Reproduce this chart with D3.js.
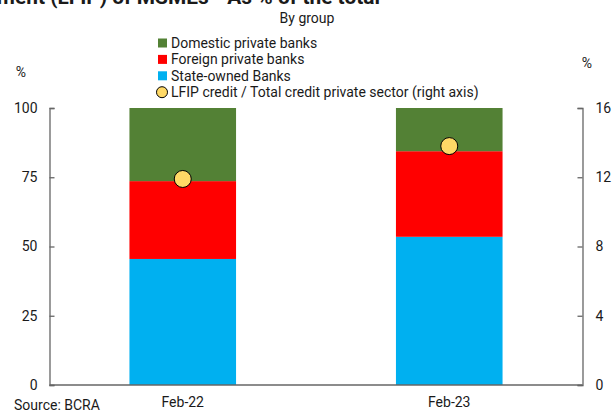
<!DOCTYPE html>
<html><head><meta charset="utf-8">
<script src="https://cdn.jsdelivr.net/npm/d3@7"></script>
<style>
body{margin:0;background:#fff;}
svg text{font-family:Roboto,"Noto Sans",sans-serif;fill:#1a1a1a;}
</style></head>
<body><svg id="c" width="615" height="412"></svg>
<script>
const categories = ["Feb-22", "Feb-23"];
const stateOwned = [45.5, 53.5];
const foreignPrivate = [28.1, 30.9];
const domesticPrivate = [26.4, 15.6];
const lfipShare = [11.9, 13.8];
const leftTicks = [0, 25, 50, 75, 100];
const rightTicks = [0, 4, 8, 12, 16];
const seriesNames = ["State-owned Banks", "Foreign private banks", "Domestic private banks"];
const seriesColors = ["#00B0F0", "#FF0000", "#538135"];
const lineName = "LFIP credit / Total credit private sector (right axis)";
const titleText = "Productive Investment (LFIP) of MSMEs - As % of the total";

const svg = d3.select("#c");
const L = 49.5, R = 582.5, T = 108, B = 385;
const x = d3.scaleBand().domain(categories).range([L, R]).paddingInner(0.6).paddingOuter(0.3);
const y = d3.scaleLinear().domain([0, 100]).range([B, T]);
const y2 = d3.scaleLinear().domain([0, 16]).range([B, T]);

// cut-off title (partly outside the top edge, as in the reference)
const title = svg.append("text").attr("x", 380).attr("y", 4).attr("text-anchor", "end")
  .style("font-weight", "bold").style("font-size", "24px").text(titleText);
{
  const node = title.node();
  const i0 = titleText.indexOf("(");
  const w = node.getSubStringLength(i0, titleText.length - i0);
  const fs = Math.max(14, Math.min(30, 24 * 330 / w));
  title.style("font-size", fs + "px");
}
svg.append("text").attr("x", 307).attr("y", 23).attr("text-anchor", "middle")
  .style("font-size", "14px").text("By group");

// stacked bars
const rows = categories.map((c, i) => ({cat: c, v: [stateOwned[i], foreignPrivate[i], domesticPrivate[i]]}));
const stack = d3.stack().keys([0, 1, 2]).value((d, k) => d.v[k]);
const layers = stack(rows);
svg.append("g").selectAll("g").data(layers).join("g")
  .attr("fill", (d, i) => seriesColors[i])
  .selectAll("rect").data(d => d).join("rect")
  .attr("x", d => x(d.data.cat)).attr("width", x.bandwidth())
  .attr("y", d => y(d[1])).attr("height", d => y(d[0]) - y(d[1]));

// axes
const axisColor = "#666";
const gl = svg.append("g").attr("transform", `translate(${L},0)`)
  .call(d3.axisLeft(y).tickValues(leftTicks).tickSizeInner(-5).tickSizeOuter(-5).tickPadding(12));
const gr = svg.append("g").attr("transform", `translate(${R},0)`)
  .call(d3.axisRight(y2).tickValues(rightTicks).tickSizeInner(-5).tickSizeOuter(-5).tickPadding(13));
const gb = svg.append("g").attr("transform", `translate(0,${B})`)
  .call(d3.axisBottom(x).tickSize(0).tickPadding(12));
[gl, gr, gb].forEach(g => {
  g.selectAll("path,line").attr("stroke", axisColor).attr("stroke-width", 1.3);
  g.selectAll("text").style("font-size", "14px").style("font-family", "Roboto,sans-serif").attr("fill", "#1a1a1a");
});
gb.select(".domain").attr("d", `M${L},0H${R}`);

// points
svg.append("g").selectAll("circle").data(categories).join("circle")
  .attr("cx", d => x(d) + x.bandwidth() / 2)
  .attr("cy", (d, i) => y2(lfipShare[i]))
  .attr("r", 8.5).attr("fill", "#FFD966").attr("stroke", "#000").attr("stroke-width", 1);

// unit labels
svg.append("text").attr("x", 21).attr("y", 77).attr("text-anchor", "middle").style("font-size", "14px").text("%");
svg.append("text").attr("x", 587).attr("y", 68).attr("text-anchor", "middle").style("font-size", "14px").text("%");

// legend
const lg = svg.append("g");
const legendItems = [
  {name: seriesNames[2], color: seriesColors[2]},
  {name: seriesNames[1], color: seriesColors[1]},
  {name: seriesNames[0], color: seriesColors[0]},
  {name: lineName, circle: true}
];
legendItems.forEach((it, i) => {
  const cy = 43 + i * 16.4;
  if (it.circle) {
    lg.append("circle").attr("cx", 162).attr("cy", cy).attr("r", 5.5)
      .attr("fill", "#FFD966").attr("stroke", "#000").attr("stroke-width", 1);
  } else {
    lg.append("rect").attr("x", 158).attr("y", cy - 4.5).attr("width", 9).attr("height", 9).attr("fill", it.color);
  }
  lg.append("text").attr("x", 171).attr("y", cy + 5).style("font-size", "14px").text(it.name);
});

// source
svg.append("text").attr("x", 14).attr("y", 410).style("font-size", "14px").text("Source: BCRA");
</script></body></html>
